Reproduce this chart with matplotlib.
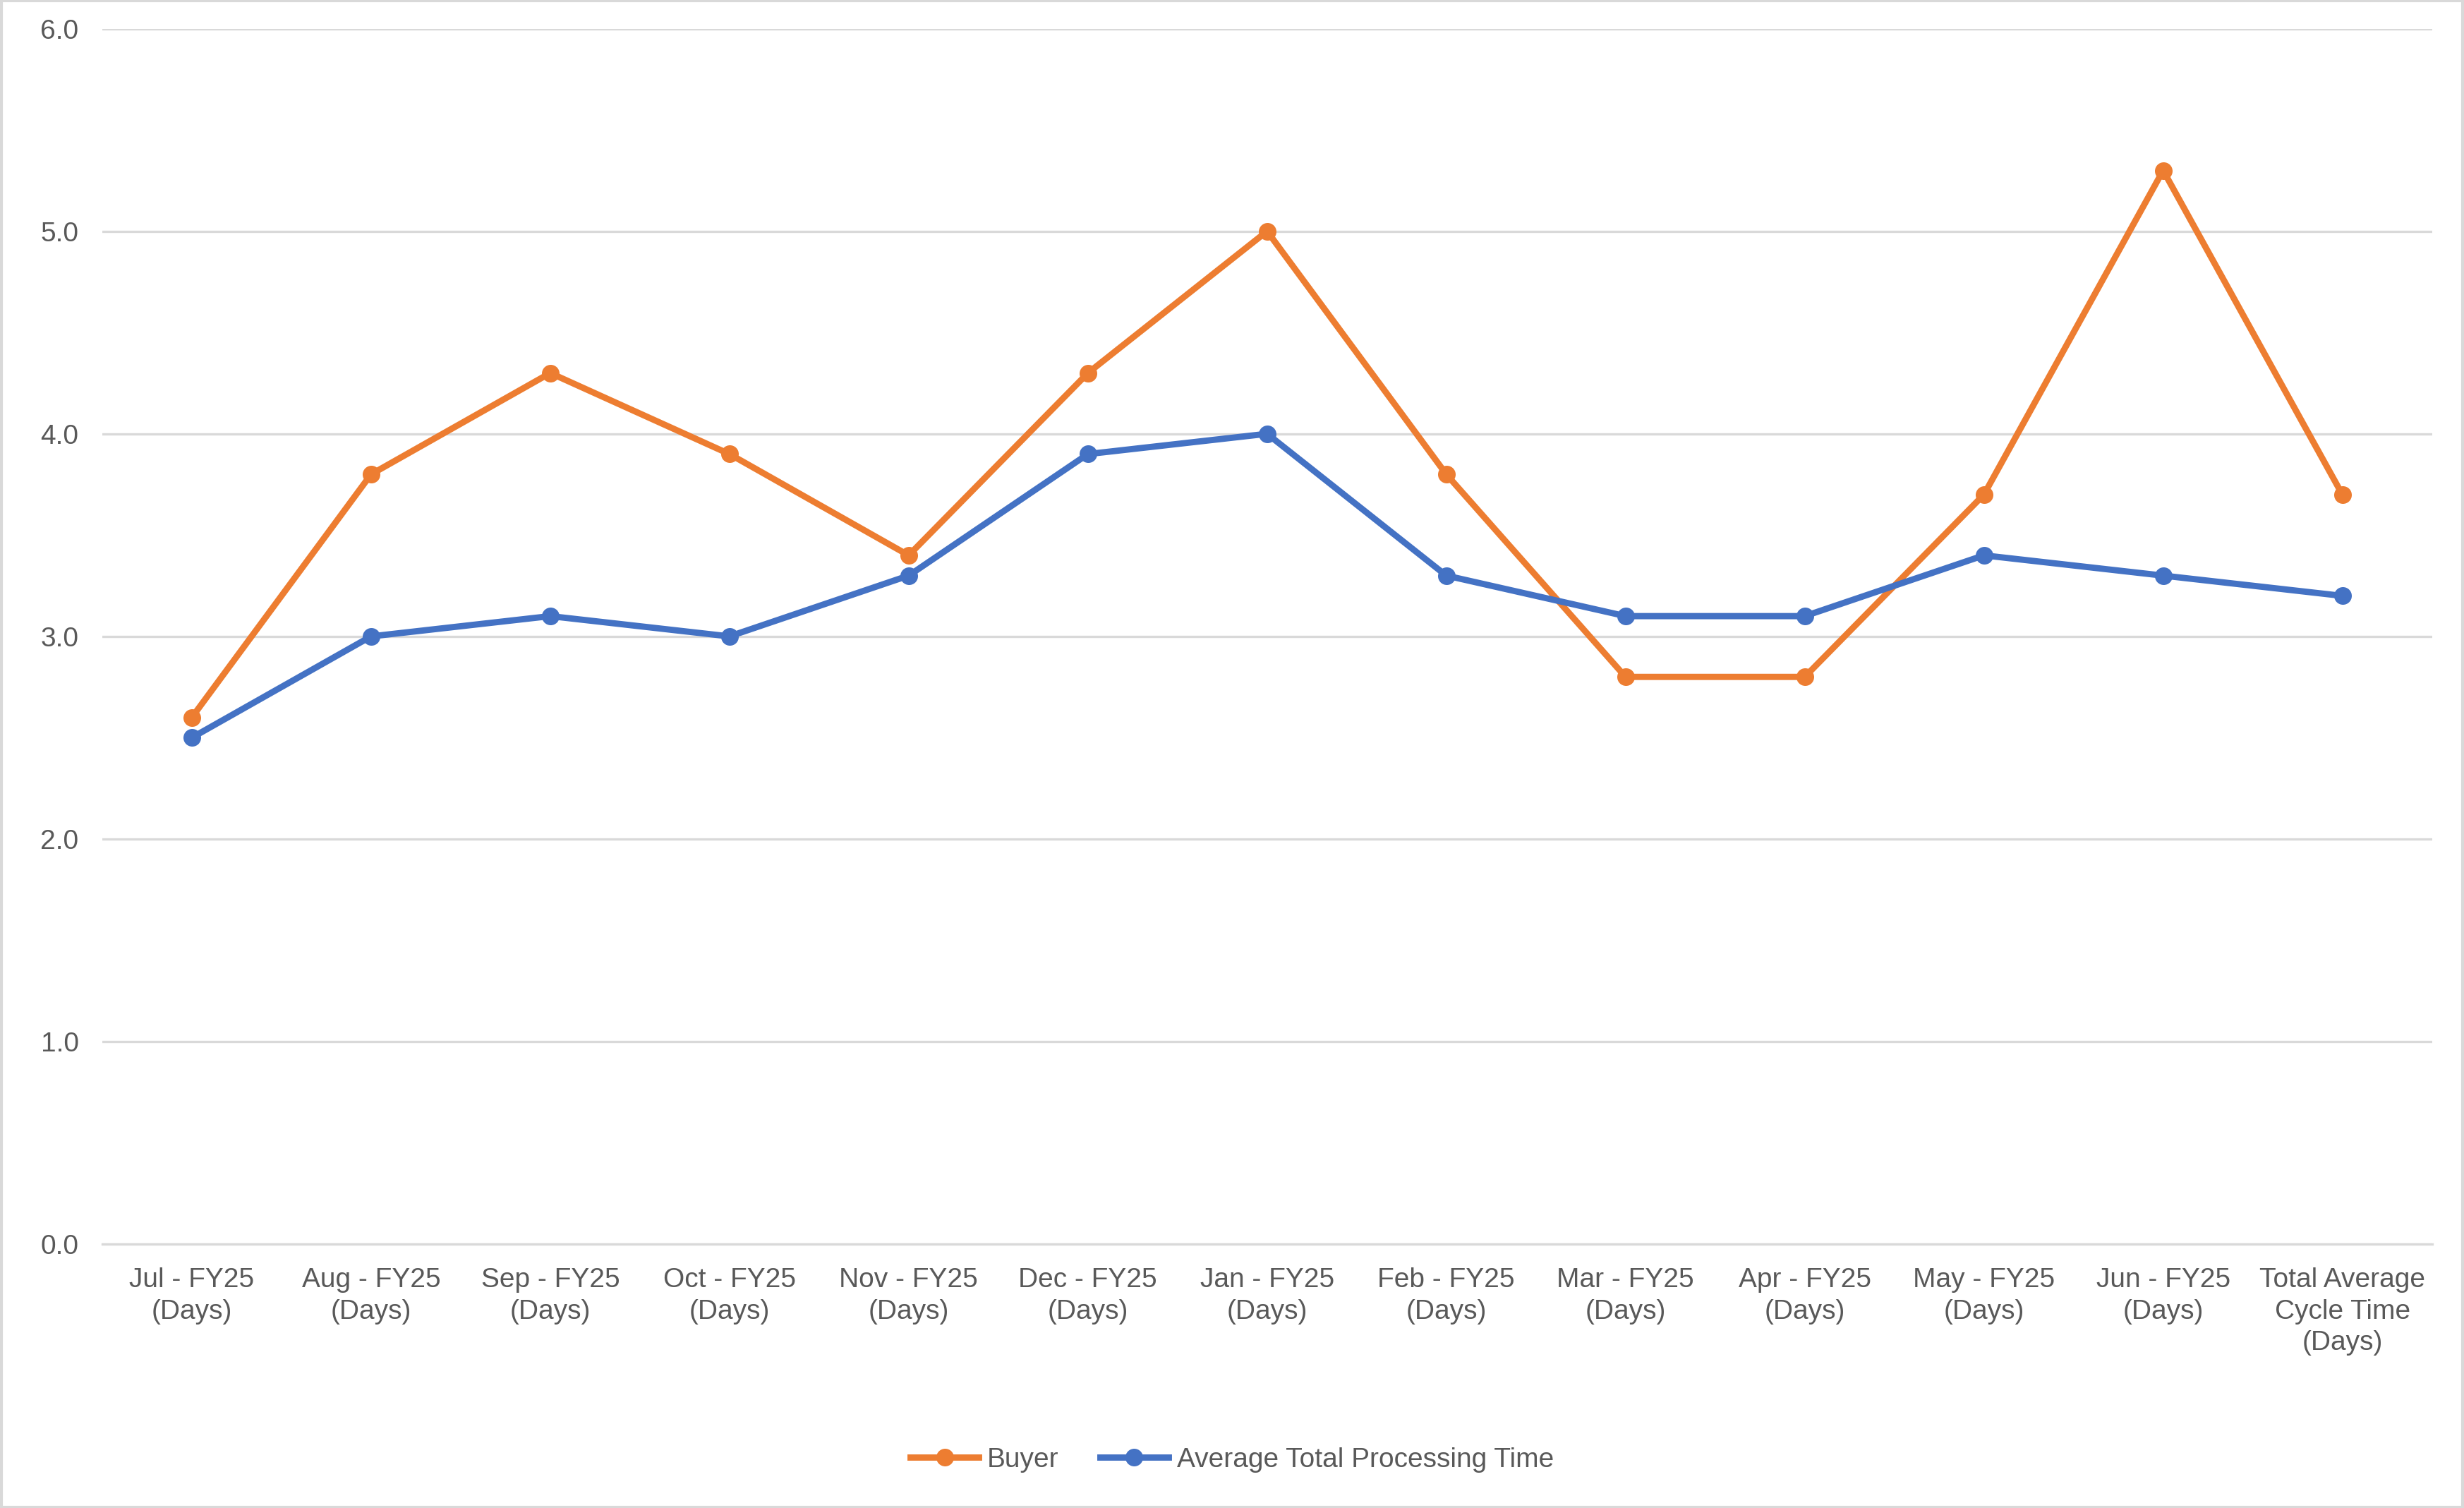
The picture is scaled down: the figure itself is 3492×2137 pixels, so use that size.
import matplotlib.pyplot as plt
from matplotlib.patches import Rectangle

categories = [
    "Jul - FY25\n(Days)", "Aug - FY25\n(Days)", "Sep - FY25\n(Days)", "Oct - FY25\n(Days)",
    "Nov - FY25\n(Days)", "Dec - FY25\n(Days)", "Jan - FY25\n(Days)", "Feb - FY25\n(Days)",
    "Mar - FY25\n(Days)", "Apr - FY25\n(Days)", "May - FY25\n(Days)", "Jun - FY25\n(Days)",
    "Total Average\nCycle Time\n(Days)",
]
buyer = [2.6, 3.8, 4.3, 3.9, 3.4, 4.3, 5.0, 3.8, 2.8, 2.8, 3.7, 5.3, 3.7]
avg_total = [2.5, 3.0, 3.1, 3.0, 3.3, 3.9, 4.0, 3.3, 3.1, 3.1, 3.4, 3.3, 3.2]
yticks = [0.0, 1.0, 2.0, 3.0, 4.0, 5.0, 6.0]

plt.rcParams["font.family"] = "Liberation Sans"
fig = plt.figure(figsize=(17.46, 10.685), dpi=200)
ax = fig.add_axes([0.0415, 0.175, 0.9455, 0.806])
fig.patches.append(Rectangle((0.0005, 0.0005), 0.999, 0.999, transform=fig.transFigure,
                             fill=False, edgecolor="#D9D9D9", linewidth=1.5))

x = list(range(len(categories)))
ax.plot(x, buyer, color="#ED7D31", linewidth=3.2, marker="o", markersize=8, label="Buyer", zorder=3)
ax.plot(x, avg_total, color="#4472C4", linewidth=3.2, marker="o", markersize=8,
        label="Average Total Processing Time", zorder=3)

ax.set_xlim(-0.5, len(categories) - 0.5)
ax.set_ylim(0, 6)
ax.set_yticks(yticks)
ax.set_yticklabels([f"{v:.1f}" for v in yticks], fontsize=14, color="#595959")
ax.set_xticks(x)
ax.set_xticklabels(categories, fontsize=14, color="#595959", linespacing=1.3)
ax.tick_params(axis="both", length=0, pad=12)
ax.grid(axis="y", color="#D9D9D9", linewidth=1.2)
ax.set_axisbelow(True)
for side in ["top", "right", "left"]:
    ax.spines[side].set_visible(False)
ax.spines["bottom"].set_color("#D9D9D9")
ax.spines["bottom"].set_linewidth(1.2)

fig.legend(loc="center", bbox_to_anchor=(0.5, 0.032), ncol=2, frameon=False,
           fontsize=14, labelcolor="#595959", handlelength=2.5, columnspacing=1.5,
           handletextpad=0.3)

fig.savefig("out.png", dpi=200)
